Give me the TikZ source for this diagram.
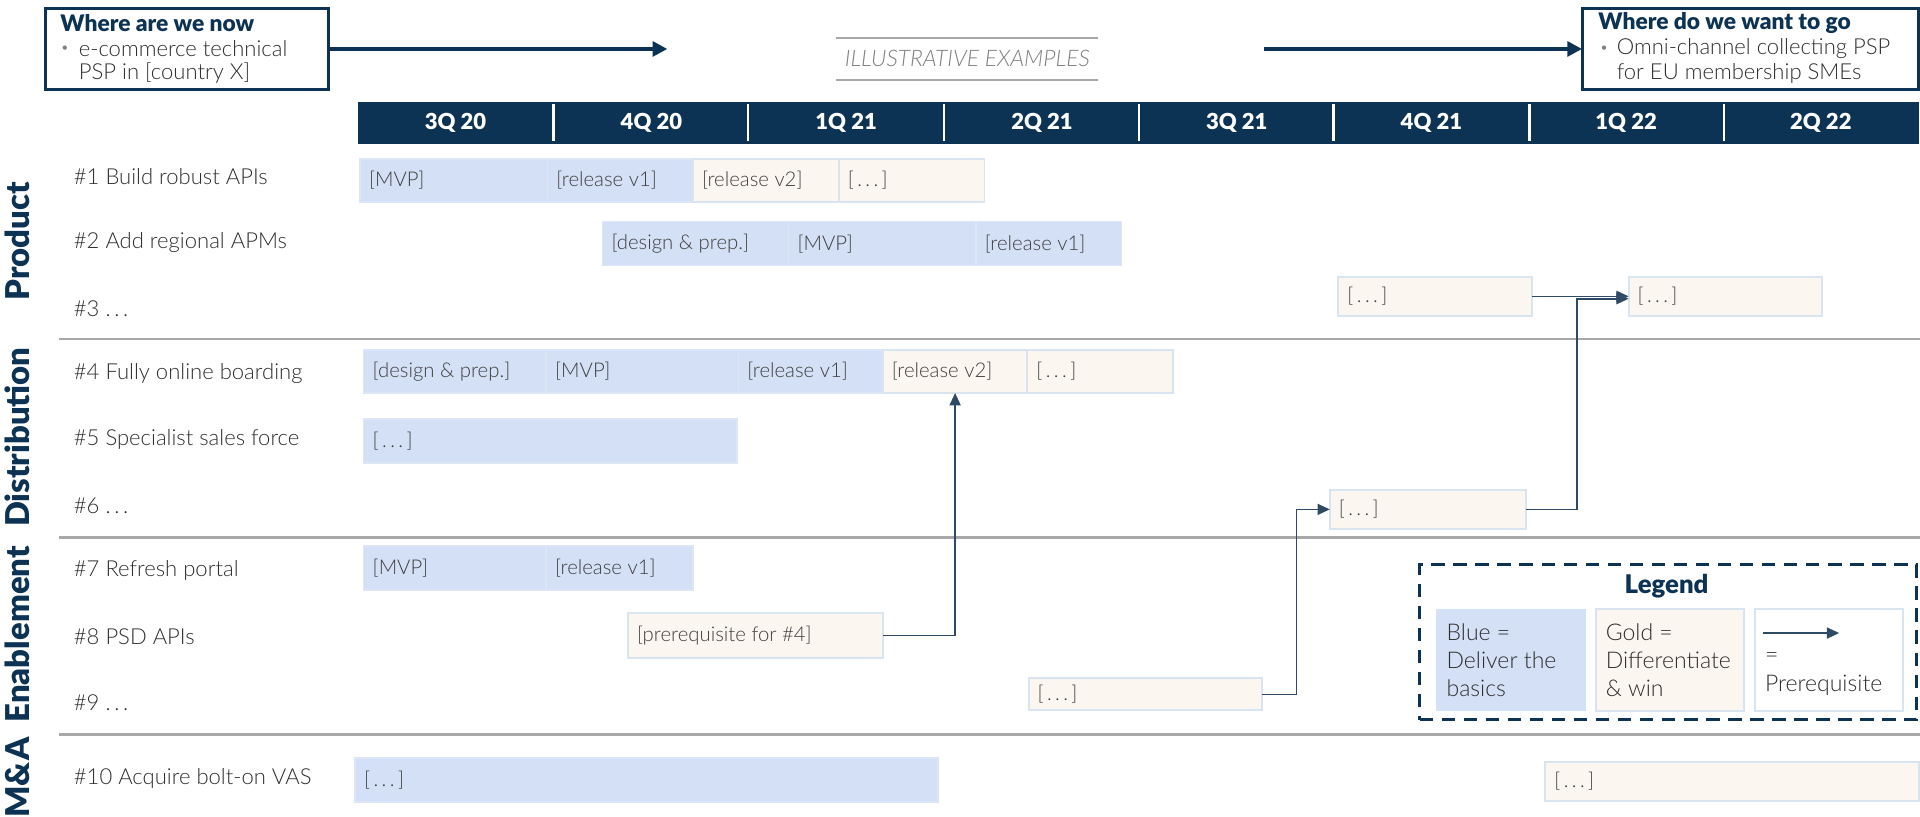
\documentclass[tikz,border=0pt]{standalone}
\usepackage{fontspec}
\setmainfont{Lato Light}[BoldFont={Lato Black}]
\newfontfamily\heavyfont{Lato Black}
\usetikzlibrary{arrows.meta,calc}
\definecolor{navy}{HTML}{0C3354}
\definecolor{bluefill}{HTML}{D3E0F6}
\definecolor{blueline}{HTML}{DCE6F6}
\definecolor{goldfill}{HTML}{FBF6F0}
\definecolor{goldline}{HTML}{D8E4F0}
\definecolor{sepgray}{HTML}{A8A8A8}
\definecolor{txtgray}{HTML}{3F3F3F}
\definecolor{lblgray}{HTML}{2E2E2E}
\definecolor{conncol}{HTML}{2E4A64}
\newcommand\segbox[7]{%
  \node[#1, minimum width={(#4-#3)*0.5pt}, minimum height={(#6-#5)*0.5pt}, anchor=north west] (#2) at (#3,#5) {};
  \node[bartext, anchor=west] (#2t) at ([xshift=3.5pt]#2.west) {#7};}
\begin{document}
\begin{tikzpicture}[x=0.5pt,y=-0.5pt,
  bseg/.style={fill=bluefill, draw=blueline, line width=0.6pt, inner sep=0pt, outer sep=0pt},
  gseg/.style={fill=goldfill, draw=goldline, line width=0.8pt, inner sep=0pt, outer sep=0pt},
  wseg/.style={fill=white, draw=goldline, line width=0.8pt, inner sep=0pt, outer sep=0pt},
  bartext/.style={inner sep=0pt, text=txtgray, font=\fontsize{8.3}{9.8}\selectfont},
  rowlabel/.style={inner sep=0pt, anchor=west, text=lblgray, font=\fontsize{9}{10.8}\selectfont},
  seclabel/.style={inner sep=0pt, rotate=90, text=navy, font=\heavyfont\fontsize{13.4}{15}\selectfont},
  sepline/.style={draw=sepgray, line width=1pt},
  qlabel/.style={inner sep=0pt, text=white, font=\heavyfont\fontsize{9}{10.8}\selectfont},
  conn/.style={draw=conncol, line width=0.6pt, -{Triangle[length=5pt,width=4.5pt]}},
  bigarrow/.style={draw=navy, line width=1.7pt, -{Triangle[length=6pt,width=6pt]}},
  statebox/.style={draw=navy, line width=1.2pt, fill=white, inner sep=0pt, outer sep=0pt},
  titletext/.style={inner sep=0pt, anchor=west, text=navy, font=\heavyfont\fontsize{9.3}{11}\selectfont},
  bullettext/.style={inner sep=0pt, anchor=west, text=lblgray, font=\fontsize{9}{10.8}\selectfont},
  bulletdot/.style={inner sep=0pt, text=gray, font=\fontsize{6}{7}\selectfont},
  legtext/.style={inner sep=0pt, anchor=west, align=left, text=lblgray, font=\fontsize{9.4}{11.5}\selectfont},
]
\useasboundingbox (0,0) rectangle (1568,667.2);

% ---------- top: current and target state ----------
\node[statebox, minimum width=115.5pt, minimum height=33pt, anchor=north west] (now) at (37,7) {};
\node[titletext] (nowt) at (49,19) {Where are we now};
\node[bulletdot] (nowb) at (53,40) {•};
\node[bullettext] (now1) at (64,40) {e-commerce technical};
\node[bullettext] (now2) at (64,60) {PSP in [country X]};

\node[statebox, minimum width=137.5pt, minimum height=33pt, anchor=north west] (goal) at (1292,7) {};
\node[titletext] (goalt) at (1305,19) {Where do we want to go};
\node[bulletdot] (goalb) at (1310,40) {•};
\node[bullettext] (goal1) at (1320,40) {Omni-channel collecting PSP};
\node[bullettext] (goal2) at (1320,60) {for EU membership SMEs};

\coordinate (a1) at (545,40);
\coordinate (a2) at (1032,40);
\draw[bigarrow] (now.east) -- (a1);
\draw[bigarrow] (a2) -- (goal.west);

\node[inner sep=0pt, text=gray, font=\itshape\fontsize{9.3}{10}\selectfont] (illus) at (790,48) {ILLUSTRATIVE EXAMPLES};
\draw[draw=sepgray, line width=0.8pt] (683,31) -- (897,31);
\draw[draw=sepgray, line width=0.8pt] (683,65) -- (897,65);

% ---------- timeline header ----------
\node[fill=navy, inner sep=0pt, minimum width=637.5pt, minimum height=17pt, anchor=north west] (hdr) at (292,83) {};
\foreach \x in {452,611,771,930,1089,1249,1408} {
  \draw[white, line width=1pt] (\x,85) -- (\x,115);
}
\node[qlabel] (q1) at (372,100) {3Q 20};
\node[qlabel] (q2) at (532,100) {4Q 20};
\node[qlabel] (q3) at (691,100) {1Q 21};
\node[qlabel] (q4) at (851,100) {2Q 21};
\node[qlabel] (q5) at (1010,100) {3Q 21};
\node[qlabel] (q6) at (1169,100) {4Q 21};
\node[qlabel] (q7) at (1328,100) {1Q 22};
\node[qlabel] (q8) at (1487,100) {2Q 22};

% ---------- section labels and separators ----------
\node[seclabel] (sP) at (14,197) {Product};
\node[seclabel] (sD) at (14,357) {Distribution};
\node[seclabel] (sE) at (14,518) {Enablement};
\node[seclabel] (sM) at (14,635) {M\&A};
\draw[sepline] (48,277) -- (1568,277);
\draw[sepline] (48,439) -- (1568,439);
\draw[sepline] (48,600) -- (1568,600);

% ---------- row labels ----------
\node[rowlabel] (l1) at (60,144) {\#1 Build robust APIs};
\node[rowlabel] (l2) at (60,198) {\#2 Add regional APMs};
\node[rowlabel] (l3) at (60,252) {\#3 .\,.\,.};
\node[rowlabel] (l4) at (60,305) {\#4 Fully online boarding};
\node[rowlabel] (l5) at (60,359) {\#5 Specialist sales force};
\node[rowlabel] (l6) at (60,413) {\#6 .\,.\,.};
\node[rowlabel] (l7) at (60,466) {\#7 Refresh portal};
\node[rowlabel] (l8) at (60,520) {\#8 PSD APIs};
\node[rowlabel] (l9) at (60,574) {\#9 .\,.\,.};
\node[rowlabel] (l10) at (60,636) {\#10 Acquire bolt-on VAS};

% ---------- bars ----------
\segbox{bseg}{r1a}{294}{447}{130}{165}{[MVP]}
\segbox{bseg}{r1b}{447}{566}{130}{165}{[release v1]}
\segbox{gseg}{r1c}{566}{685}{130}{165}{[release v2]}
\segbox{gseg}{r1d}{685}{804}{130}{165}{[\,.\,.\,.\,]}

\segbox{bseg}{r2a}{492}{644}{181}{217}{[design \& prep.]}
\segbox{bseg}{r2b}{644}{797}{181}{217}{[MVP]}
\segbox{bseg}{r2c}{797}{916}{181}{217}{[release v1]}

\segbox{gseg}{r3a}{1093}{1251}{226}{258}{[\,.\,.\,.\,]}
\segbox{gseg}{r3b}{1330}{1488}{226}{258}{[\,.\,.\,.\,]}

\segbox{bseg}{r4a}{297}{446}{286}{321}{[design \& prep.]}
\segbox{bseg}{r4b}{446}{603}{286}{321}{[MVP]}
\segbox{bseg}{r4c}{603}{721}{286}{321}{[release v1]}
\segbox{gseg}{r4d}{721}{839}{286}{321}{[release v2]}
\segbox{gseg}{r4e}{839}{958}{286}{321}{[\,.\,.\,.\,]}

\segbox{bseg}{r5a}{297}{602}{342}{378}{[\,.\,.\,.\,]}

\segbox{gseg}{r6a}{1086}{1246}{400}{432}{[\,.\,.\,.\,]}

\segbox{bseg}{r7a}{297}{446}{446}{482}{[MVP]}
\segbox{bseg}{r7b}{446}{566}{446}{482}{[release v1]}

\segbox{gseg}{r8a}{513}{721}{501}{537}{[prerequisite for \#4]}

\segbox{gseg}{r9a}{840}{1031}{554}{580}{[\,.\,.\,.\,]}

\segbox{bseg}{r10a}{290}{766}{619}{655}{[\,.\,.\,.\,]}
\segbox{gseg}{r10b}{1262}{1567}{622}{654}{[\,.\,.\,.\,]}

% ---------- prerequisite connectors ----------
\draw[conn] (r8a.east) -| (r4d.south);
\coordinate (j1) at (1059,567);
\draw[conn] (r9a.east) -- (j1) |- (r6a.west);
\coordinate (j2) at (1288,416);
\draw[conn] (r6a.east) -- (j2) |- ([yshift=-1pt]r3b.west);
\draw[conn] (r3a.east) -- (r3b.west);

% ---------- legend ----------
\node[draw=navy, line width=1.3pt, dash pattern=on 5.5pt off 3.5pt, inner sep=0pt, minimum width=203pt, minimum height=63.3pt, anchor=north west] (leg) at (1158,460) {};
\node[inner sep=0pt, text=navy, font=\heavyfont\fontsize{10.5}{12}\selectfont] (legt) at (1361,479) {Legend};
\node[bseg, draw=none, minimum width=61.25pt, minimum height=41.4pt, anchor=north west] (lb) at (1173,497.6) {};
\node[gseg, minimum width=60.5pt, minimum height=41.4pt, anchor=north west] (lg) at (1303,497.6) {};
\node[wseg, minimum width=60.5pt, minimum height=41.4pt, anchor=north west] (lw) at (1433,497.6) {};
\node[legtext] (lbt) at (1181,539) {Blue =\\Deliver the\\basics};
\node[legtext] (lgt) at (1311,539) {Gold =\\Differentiate\\\& win};
\coordinate (la1) at (1440,517);
\coordinate (la2) at (1502,517);
\draw[conn] (la1) -- (la2);
\node[legtext] (lwt) at (1441,550.5) {=\\Prerequisite};
\end{tikzpicture}
\end{document}
